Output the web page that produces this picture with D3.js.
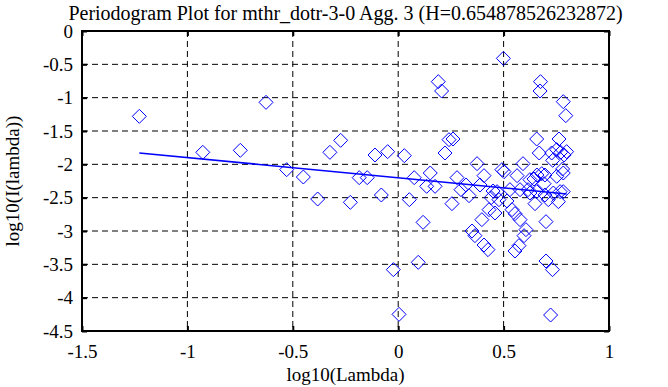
<!DOCTYPE html>
<html>
<head>
<meta charset="utf-8">
<script src="https://cdn.jsdelivr.net/npm/d3@7"></script>
<style>
  body { margin: 0; background: #fff; }
  svg text { font-family: "Liberation Serif", "Times New Roman", serif !important; fill: #000; }
</style>
</head>
<body>
<div id="chart"></div>
<script>
// log10(lambda) / log10(I(lambda)) pairs
let logLambda = [
  -1.228, -0.927, -0.749, -0.627, -0.529, -0.450, -0.382, -0.324, -0.273, -0.227,
  -0.185, -0.147, -0.110, -0.080, -0.050, -0.023, 0.004, 0.029, 0.053, 0.076,
  0.095, 0.118, 0.135, 0.152, 0.175, 0.190, 0.206,
  0.222, 0.241, 0.260, 0.255, 0.279, 0.298, 0.322, 0.336, 0.350, 0.364,
  0.374, 0.388, 0.397, 0.407, 0.407, 0.426, 0.431, 0.441, 0.450, 0.459,
  0.469, 0.478, 0.492, 0.499, 0.502, 0.516, 0.530, 0.540, 0.554, 0.554,
  0.564, 0.573, 0.578, 0.578, 0.592, 0.597, 0.606, 0.616, 0.625, 0.625,
  0.644, 0.649, 0.657, 0.657, 0.658, 0.669, 0.675, 0.673, 0.681, 0.692,
  0.696, 0.696, 0.701, 0.701, 0.712, 0.723, 0.728, 0.732, 0.733, 0.736,
  0.752, 0.752, 0.760, 0.763, 0.768, 0.771, 0.780, 0.783, 0.783, 0.787,
  0.795, 0.799, 0.783
];
let logPeriodogram = [
  -1.28, -1.82, -1.79, -1.07, -2.08, -2.19, -2.52, -1.82, -1.64, -2.57,
  -2.20, -2.20, -1.86, -2.46, -1.81, -3.58, -4.25, -1.87, -2.53, -2.20,
  -3.47, -2.87, -2.33, -2.13, -2.33, -0.76, -0.90,
  -1.83, -1.63, -1.62, -2.59, -2.20, -2.38, -2.31, -2.47, -3.00, -3.07,
  -1.99, -2.31, -2.83, -2.17, -3.21, -3.28, -2.68, -2.50, -2.40, -2.73,
  -2.41, -2.53, -2.08, -0.41, -2.11, -2.55, -2.38, -2.68, -2.74, -3.30,
  -2.17, -3.22, -2.83, -2.38, -1.99, -3.07, -2.98, -2.38, -2.23, -2.43,
  -2.22, -2.59, -1.62, -2.41, -2.16, -1.83, -0.76, -0.90, -2.14, -2.29,
  -2.46, -2.16, -2.86, -3.45, -2.53, -4.26, -1.83, -3.58, -1.94, -2.43,
  -1.78, -2.18, -2.56, -1.62, -2.41, -1.82, -2.07, -1.06, -2.41, -1.86,
  -1.27, -1.81, -2.13
];
// least squares fit drawn across the data range
let fitX = [-1.228, 0.799];
let fitY = [-1.829, -2.444];

let xTicks = [-1.5, -1, -0.5, 0, 0.5, 1];
let yTicks = [0, -0.5, -1, -1.5, -2, -2.5, -3, -3.5, -4, -4.5];
let title = "Periodogram Plot for mthr_dotr-3-0 Agg. 3 (H=0.654878526232872)";

let w = 668;
let h = 387;
let mLeft = 82, mRight = 609, mTop = 31, mBottom = 331;

let x = d3.scaleLinear().domain([-1.5, 1]).range([mLeft, mRight]);
let y = d3.scaleLinear().domain([-4.5, 0]).range([mBottom, mTop]);

let svg = d3
  .select("#chart")
  .append("svg")
  .attr("width", w)
  .attr("height", h);

svg.append("rect").attr("width", w).attr("height", h).attr("fill", "#fff");

// dashed grid at the inner ticks
svg
  .selectAll("line.vgrid")
  .data(xTicks.slice(1, -1))
  .enter()
  .append("line")
  .attr("class", "vgrid")
  .attr("x1", (d) => x(d))
  .attr("x2", (d) => x(d))
  .attr("y1", mTop)
  .attr("y2", mBottom)
  .attr("stroke", "#000")
  .attr("stroke-dasharray", "6,4");

svg
  .selectAll("line.hgrid")
  .data(yTicks.slice(1, -1))
  .enter()
  .append("line")
  .attr("class", "hgrid")
  .attr("x1", mLeft)
  .attr("x2", mRight)
  .attr("y1", (d) => y(d))
  .attr("y2", (d) => y(d))
  .attr("stroke", "#000")
  .attr("stroke-dasharray", "6,4");

// axes: inward ticks on all four sides
let fmt = (d) => String(d);
let axB = svg
  .append("g")
  .attr("transform", `translate(0,${mBottom})`)
  .call(d3.axisBottom(x).tickValues(xTicks).tickSize(-5).tickPadding(14).tickFormat(fmt));
let axT = svg
  .append("g")
  .attr("transform", `translate(0,${mTop})`)
  .call(d3.axisTop(x).tickValues(xTicks).tickSize(-5).tickFormat(""));
let axL = svg
  .append("g")
  .attr("transform", `translate(${mLeft},0)`)
  .call(d3.axisLeft(y).tickValues(yTicks).tickSize(-5).tickPadding(9).tickFormat(fmt));
let axR = svg
  .append("g")
  .attr("transform", `translate(${mRight},0)`)
  .call(d3.axisRight(y).tickValues(yTicks).tickSize(-5).tickFormat(""));

[axB, axT, axL, axR].forEach(function (g) {
  g.attr("font-family", null);
  g.select(".domain").remove();
  g.selectAll(".tick line").attr("stroke", "#000").attr("stroke-width", 2);
  g.selectAll("text")
    .style("font-family", "'Liberation Serif', serif")
    .attr("font-size", 19)
    .attr("fill", "#000");
});

svg
  .append("rect")
  .attr("x", mLeft)
  .attr("y", mTop)
  .attr("width", mRight - mLeft)
  .attr("height", mBottom - mTop)
  .attr("fill", "none")
  .attr("stroke", "#000")
  .attr("stroke-width", 2);

// regression line
svg
  .append("line")
  .attr("x1", x(fitX[0]))
  .attr("y1", y(fitY[0]))
  .attr("x2", x(fitX[1]))
  .attr("y2", y(fitY[1]))
  .attr("stroke", "#0000ff")
  .attr("stroke-width", 1.5);

// diamonds
let r = 7;
svg
  .selectAll("path.pt")
  .data(logLambda.map((d, i) => [d, logPeriodogram[i]]))
  .enter()
  .append("path")
  .attr("class", "pt")
  .attr("d", function (d) {
    let cx = x(d[0]), cy = y(d[1]);
    return `M${cx},${cy - r}L${cx + r},${cy}L${cx},${cy + r}L${cx - r},${cy}Z`;
  })
  .attr("fill", "none")
  .attr("stroke", "#0000ff")
  .attr("stroke-width", 1);

// titles
svg
  .append("text")
  .attr("x", (mLeft + mRight) / 2)
  .attr("y", 20)
  .attr("text-anchor", "middle")
  .attr("font-size", 20)
  .text(title);

svg
  .append("text")
  .attr("x", (mLeft + mRight) / 2)
  .attr("y", 381)
  .attr("text-anchor", "middle")
  .attr("font-size", 19)
  .text("log10(Lambda)");

svg
  .append("text")
  .attr("transform", `translate(19,${(mTop + mBottom) / 2}) rotate(-90)`)
  .attr("text-anchor", "middle")
  .attr("font-size", 19)
  .text("log10(I(lambda))");
</script>
</body>
</html>
